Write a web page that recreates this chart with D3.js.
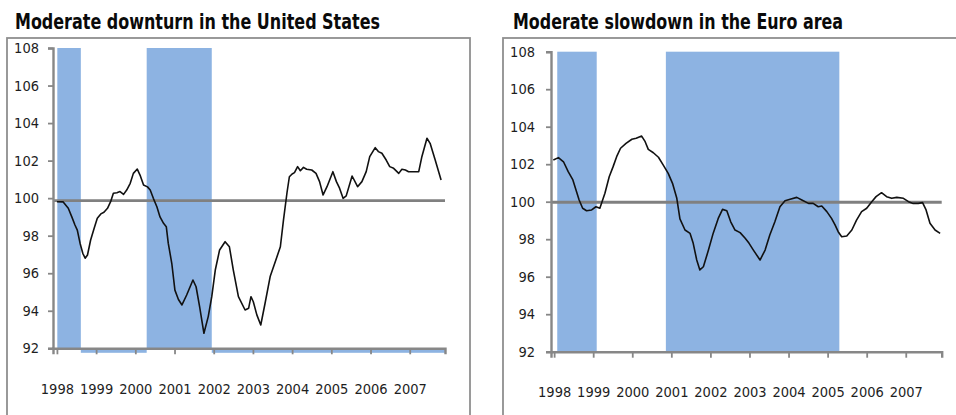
<!DOCTYPE html>
<html>
<head>
<meta charset="utf-8">
<script src="https://cdn.jsdelivr.net/npm/d3@7"></script>
<style>
  body { margin: 0; background: #fff; }
  svg { display: block; }
</style>
</head>
<body>
<svg width="956" height="415"></svg>
<script>
// titles
const titles = ["Moderate downturn in the United States", "Moderate slowdown in the Euro area"];

// tick labels
const yTicks = [92, 94, 96, 98, 100, 102, 104, 106, 108];
const yearTicks = [1998, 1999, 2000, 2001, 2002, 2003, 2004, 2005, 2006, 2007];

// US series (fractional year, index value)
const usDates = [1998.00, 1998.16, 1998.29, 1998.38, 1998.46, 1998.52, 1998.59, 1998.66, 1998.72, 1998.78,
  1998.86, 1998.95, 1999.03, 1999.12, 1999.20, 1999.29, 1999.37, 1999.44, 1999.53, 1999.61,
  1999.70, 1999.78, 1999.87, 1999.95, 2000.05, 2000.12, 2000.21, 2000.31, 2000.38, 2000.46,
  2000.55, 2000.63, 2000.72, 2000.79, 2000.84, 2000.93, 2001.01, 2001.10, 2001.19, 2001.31,
  2001.47, 2001.55, 2001.64, 2001.75, 2001.86, 2001.95, 2002.04, 2002.15, 2002.29, 2002.40,
  2002.50, 2002.63, 2002.80, 2002.89, 2002.95, 2003.01, 2003.10, 2003.20, 2003.31, 2003.44,
  2003.57, 2003.70, 2003.78, 2003.87, 2003.93, 2004.00, 2004.06, 2004.14, 2004.21, 2004.29,
  2004.37, 2004.50, 2004.61, 2004.70, 2004.79, 2004.89, 2005.04, 2005.13, 2005.21, 2005.30,
  2005.38, 2005.53, 2005.67, 2005.78, 2005.89, 2005.98, 2006.12, 2006.20, 2006.29, 2006.40,
  2006.49, 2006.59, 2006.72, 2006.80, 2006.89, 2006.97, 2007.23, 2007.31, 2007.44, 2007.52,
  2007.65, 2007.80];
const usValues = [99.81, 99.80, 99.46, 99.00, 98.57, 98.30, 97.60, 97.06, 96.80, 96.97,
  97.77, 98.40, 98.93, 99.16, 99.25, 99.46, 99.81, 100.26, 100.29, 100.35,
  100.20, 100.43, 100.79, 101.32, 101.55, 101.23, 100.70, 100.60, 100.43, 99.99,
  99.54, 99.00, 98.66, 98.48, 97.60, 96.53, 95.10, 94.60, 94.31, 94.84,
  95.64, 95.28, 94.22, 92.80, 93.69, 94.75, 96.17, 97.24, 97.68, 97.41,
  96.17, 94.75, 94.04, 94.13, 94.75, 94.48, 93.78, 93.24, 94.40, 95.82,
  96.61, 97.41, 98.84, 100.30, 101.14, 101.29, 101.36, 101.68, 101.46, 101.64,
  101.54, 101.50, 101.32, 100.88, 100.17, 100.61, 101.41, 100.88, 100.53, 99.99,
  100.12, 101.18, 100.61, 100.88, 101.41, 102.21, 102.69, 102.48, 102.39, 102.03,
  101.68, 101.59, 101.32, 101.54, 101.50, 101.41, 101.41, 102.21, 103.19, 102.92,
  102.03, 100.97];

// Euro area series
const euDates = [1997.98, 1998.11, 1998.24, 1998.36, 1998.48, 1998.56, 1998.64, 1998.73, 1998.83, 1998.96,
  1999.07, 1999.17, 1999.30, 1999.41, 1999.51, 1999.60, 1999.70, 1999.84, 1999.99, 2000.10,
  2000.24, 2000.33, 2000.41, 2000.54, 2000.67, 2000.79, 2000.92, 2001.03, 2001.14, 2001.22,
  2001.35, 2001.48, 2001.56, 2001.65, 2001.73, 2001.82, 2001.95, 2002.07, 2002.20, 2002.31,
  2002.42, 2002.52, 2002.63, 2002.76, 2002.89, 2002.99, 2003.10, 2003.27, 2003.40, 2003.52,
  2003.65, 2003.78, 2003.91, 2004.04, 2004.21, 2004.34, 2004.51, 2004.63, 2004.76, 2004.85,
  2004.98, 2005.10, 2005.19, 2005.27, 2005.36, 2005.49, 2005.62, 2005.74, 2005.87, 2006.00,
  2006.13, 2006.24, 2006.38, 2006.51, 2006.64, 2006.77, 2006.94, 2007.07, 2007.19, 2007.32,
  2007.43, 2007.52, 2007.62, 2007.75, 2007.88];
const euValues = [102.22, 102.35, 102.13, 101.60, 101.16, 100.62, 100.09, 99.65, 99.52, 99.56,
  99.73, 99.65, 100.45, 101.33, 101.87, 102.40, 102.85, 103.11, 103.33, 103.38,
  103.50, 103.20, 102.79, 102.61, 102.37, 101.96, 101.51, 100.98, 100.18, 99.08,
  98.49, 98.31, 97.78, 96.89, 96.36, 96.53, 97.42, 98.31, 99.11, 99.59,
  99.52, 98.93, 98.49, 98.35, 98.05, 97.78, 97.42, 96.89, 97.42, 98.22,
  98.93, 99.73, 100.05, 100.13, 100.23, 100.09, 99.91, 99.91, 99.73, 99.77,
  99.47, 99.11, 98.76, 98.40, 98.13, 98.17, 98.49, 99.02, 99.47, 99.65,
  100.00, 100.27, 100.48, 100.27, 100.18, 100.23, 100.18, 100.00, 99.91, 99.91,
  99.95, 99.56, 98.85, 98.49, 98.31];

// shaded periods [start, end]
const usBands = [[1998.01, 1998.61], [2000.29, 2001.95]];
const euBands = [[1998.08, 1999.09], [2000.86, 2005.30]];

// level of the grey reference line
const refLevels = [99.87, 99.97];

const svg = d3.select("svg");
svg.append("rect").attr("width", 956).attr("height", 415).attr("fill", "#fff");

const bandColor = "#8db3e2";
const axisColor = "#878787";
const font = "'DejaVu Sans Condensed', 'DejaVu Sans', sans-serif";

function drawPanel(p) {
  const g = svg.append("g");

  // outer frame
  g.append("rect")
    .attr("x", p.frame[0]).attr("y", p.frame[1])
    .attr("width", p.frame[2]).attr("height", p.frame[3])
    .attr("fill", "none").attr("stroke", "#8f8f8f").attr("stroke-width", 1.8);

  // title
  g.append("text")
    .attr("x", p.titleX).attr("y", 29)
    .attr("textLength", p.titleW).attr("lengthAdjust", "spacingAndGlyphs")
    .style("font-family", font)
    .style("font-weight", "bold").style("font-size", "22px")
    .attr("fill", "#0a0a0a")
    .text(p.title);

  const x = d3.scaleLinear().domain(p.xDomain).range(p.xRange);
  const y = d3.scaleLinear().domain([92, 108]).range(p.yRange);

  // shaded periods
  g.selectAll("rect.band").data(p.bands).enter().append("rect")
    .attr("class", "band")
    .attr("x", d => x(d[0])).attr("width", d => x(d[1]) - x(d[0]))
    .attr("y", y(108)).attr("height", y(92) - y(108))
    .attr("fill", bandColor);

  // thin strip under the axis between periods
  if (p.strip) {
    const gaps = [];
    for (let i = 0; i < p.bands.length; i++) {
      const end = i + 1 < p.bands.length ? p.bands[i + 1][0] : p.xDomain[1];
      gaps.push([p.bands[i][1], end]);
    }
    g.selectAll("rect.strip").data(gaps).enter().append("rect")
      .attr("class", "strip")
      .attr("x", d => x(d[0])).attr("width", d => x(d[1]) - x(d[0]))
      .attr("y", y(92)).attr("height", 4.5)
      .attr("fill", bandColor);
  }

  // reference line
  g.append("line")
    .attr("x1", x(p.xDomain[0])).attr("x2", x(p.xDomain[1]))
    .attr("y1", y(p.ref)).attr("y2", y(p.ref))
    .attr("stroke", "#808080").attr("stroke-width", 2.8);

  // series line
  const line = d3.line().x(d => x(d[0])).y(d => y(d[1]));
  g.append("path")
    .datum(d3.zip(p.dates, p.values))
    .attr("d", line)
    .attr("fill", "none").attr("stroke", "#111").attr("stroke-width", 1.6)
    .attr("stroke-linejoin", "round");

  // y axis
  const yAxis = g.append("g")
    .attr("transform", `translate(${p.xRange[0]},0)`)
    .call(d3.axisLeft(y).tickValues(yTicks).tickSize(5).tickPadding(p.yPad));
  // x axis
  const xAxis = g.append("g")
    .attr("transform", `translate(0,${y(92)})`)
    .call(d3.axisBottom(x).tickValues(yearTicks).tickSize(6).tickPadding(29).tickFormat(d3.format("d")));

  [yAxis, xAxis].forEach(a => {
    a.select(".domain").attr("stroke", axisColor).attr("stroke-width", 2.4);
    a.selectAll(".tick line").attr("stroke", axisColor).attr("stroke-width", 1.8);
    a.selectAll("text")
      .style("font-family", font)
      .style("font-size", "14.5px").attr("fill", "#1e1e1e");
  });
}

drawPanel({
  title: titles[0], titleX: 15, titleW: 365,
  frame: [7, 38, 463, 400],
  xDomain: [1997.9, 2007.9], xRange: [53, 445], yRange: [348.3, 48],
  bands: usBands, strip: true, ref: refLevels[0], yPad: 9,
  dates: usDates, values: usValues
});

drawPanel({
  title: titles[1], titleX: 513, titleW: 330,
  frame: [503, 38, 500, 400],
  xDomain: [1997.92, 2007.92], xRange: [551, 941.7], yRange: [351.7, 51.7],
  bands: euBands, strip: false, ref: refLevels[1], yPad: 11,
  dates: euDates, values: euValues
});
</script>
</body>
</html>
